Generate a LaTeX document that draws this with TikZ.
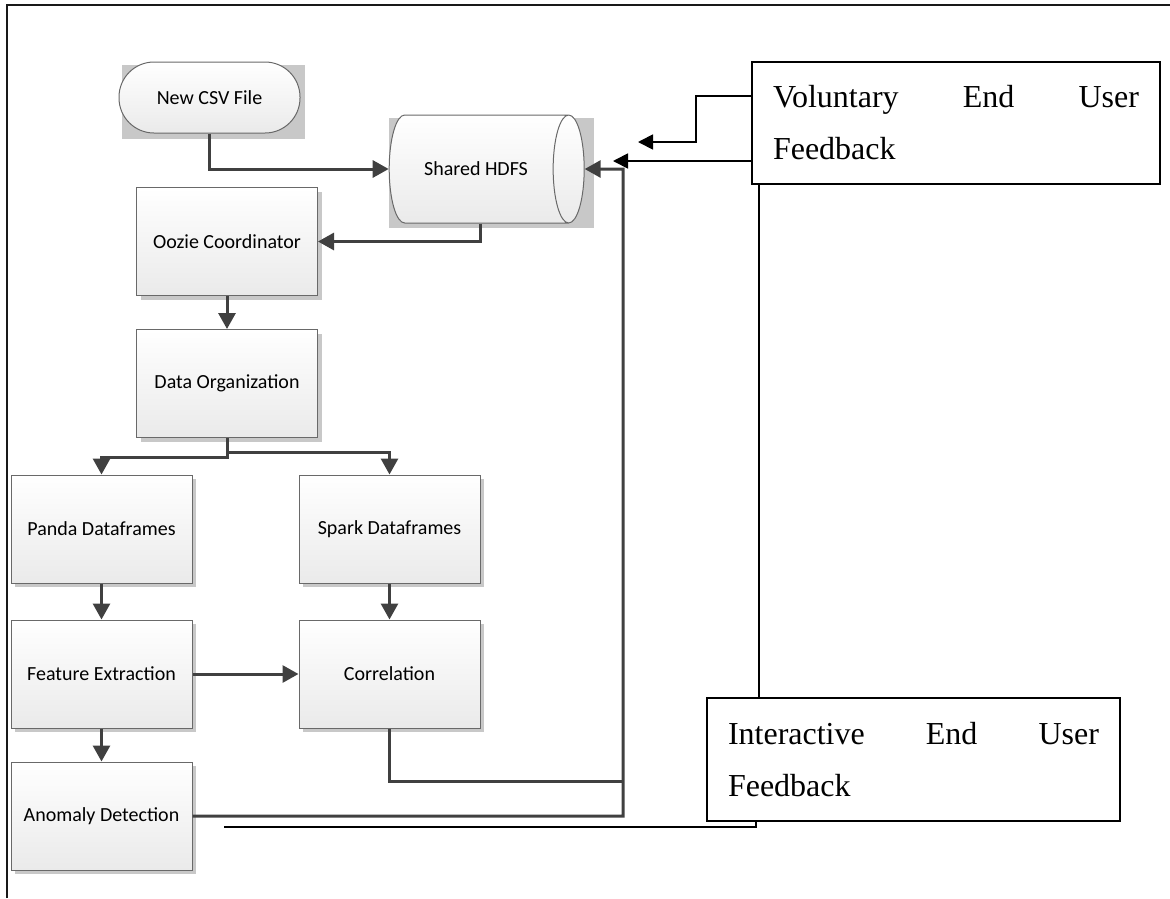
\documentclass[tikz,border=0pt]{standalone}
\usepackage{fontspec}
\setmainfont{Liberation Serif}
\newfontfamily\boxfont{Carlito}
\usetikzlibrary{arrows.meta,shapes.geometric,shadows,backgrounds,calc}

\definecolor{FlowGray}{RGB}{64,64,64}
\definecolor{EdgeGray}{RGB}{105,105,105}
\definecolor{ShadowGray}{RGB}{200,200,200}
\definecolor{FillGray}{RGB}{234,234,234}

\tikzset{
    boxbase/.style={draw=EdgeGray, line width=1pt, top color=white, bottom color=FillGray,
        font=\boxfont\fontsize{20}{24}\selectfont},
    process/.style={boxbase, minimum width=181pt, minimum height=108pt,
        general shadow={fill=ShadowGray, shadow xshift=4pt, shadow yshift=-4pt}},
    terminal/.style={boxbase, rounded corners=35pt, minimum width=181pt, minimum height=71pt},
    storage/.style={boxbase, shape=cylinder, aspect=1.5, minimum width=108pt, minimum height=195pt},
    feedback/.style={draw=black, line width=1.3pt, fill=white, align=left,
        minimum width=408pt, minimum height=122pt, text width=366pt, inner xsep=21pt,
        font=\fontsize{32}{52}\selectfont},
    line/.style={draw=FlowGray, line width=3pt},
    flow/.style={line, -{Triangle[length=16pt,width=17pt]}},
    feed/.style={draw=black, line width=1.8pt},
    feedarrow/.style={feed, -{Triangle[length=15pt,width=15pt]}},
    frame/.style={draw=black!90, line width=1.4pt}
}

\begin{document}
\begin{tikzpicture}[x=1pt, y=-1pt]
    \useasboundingbox (0,0) rectangle (1170,898);

    % Frame
    \draw[frame] (7,898) -- (7,5) -- (1170,5);

    % Nodes
    \node[terminal] (CSV) at (209.5,97.5) {New CSV File};
    \node[storage] (HDFS) at (476,169) {Shared HDFS};
    \node[process] (Oozie) at (227,241.5) {Oozie Coordinator};
    \node[process] (DataOrg) at (227,383.5) {Data Organization};
    \node[process] (Panda) at (101.5,529) {Panda Dataframes};
    \node[process] (Spark) at (389.5,529) {Spark Dataframes};
    \node[process] (Feature) at (101.5,674) {Feature Extraction};
    \node[process] (Correlation) at (389.5,674) {Correlation};
    \node[process] (Anomaly) at (101.5,816) {Anomaly Detection};
    \node[feedback] (Voluntary) at (956,123) {Voluntary\hfill End\hfill User\\Feedback};
    \node[feedback, minimum width=413pt, minimum height=123pt, text width=371pt]
        (Interactive) at (913.5,759.5) {Interactive\hfill End\hfill User\\Feedback};

    % Shadows
    \begin{scope}[on background layer]
        \fill[ShadowGray] ($(CSV.south west)+(3,5)$) rectangle ($(CSV.north east)+(4,3)$);
        \fill[ShadowGray] ($(HDFS.west |- HDFS.south)+(0,4)$) rectangle ($(HDFS.east |- HDFS.north)+(9,4)$);
    \end{scope}

    % Points
    \coordinate (BusTop) at (623,169);
    \coordinate (BusMid) at (623,781);
    \coordinate (VolTipA) at (638,142);
    \coordinate (VolTipB) at (613,161);
    \coordinate (InterEnd) at (224,827);

    % Arrows
    \draw[flow] (CSV.south) |- (HDFS.west);
    \draw[flow] ([xshift=4pt]HDFS.south) |- (Oozie.east);
    \draw[flow] (Oozie) -- (DataOrg);
    \draw[flow] (DataOrg.south) -- ++(0,19) -| (Panda.north);
    \draw[flow] (DataOrg.south) -- ++(0,14) -| (Spark.north);
    \draw[flow] (Panda) -- (Feature);
    \draw[flow] (Spark) -- (Correlation);
    \draw[flow] (Feature) -- (Correlation);
    \draw[flow] (Feature) -- (Anomaly);
    \draw[line] (Correlation.south) |- (BusMid);
    \draw[flow] (Anomaly.east) -| (BusTop) -- (HDFS.east);

    % Feedback lines
    \draw[feedarrow] ([yshift=27pt]Voluntary.west) -- ++(-55,0) |- (VolTipA);
    \draw[feedarrow] ([yshift=-38pt]Voluntary.west) -- (VolTipB);
    \draw[feed] ([xshift=8pt]Voluntary.south west) -- ([xshift=8pt]Voluntary.south west |- Interactive.north);
    \draw[feed] ([xshift=50pt]Interactive.south west) |- (InterEnd);
\end{tikzpicture}
\end{document}
